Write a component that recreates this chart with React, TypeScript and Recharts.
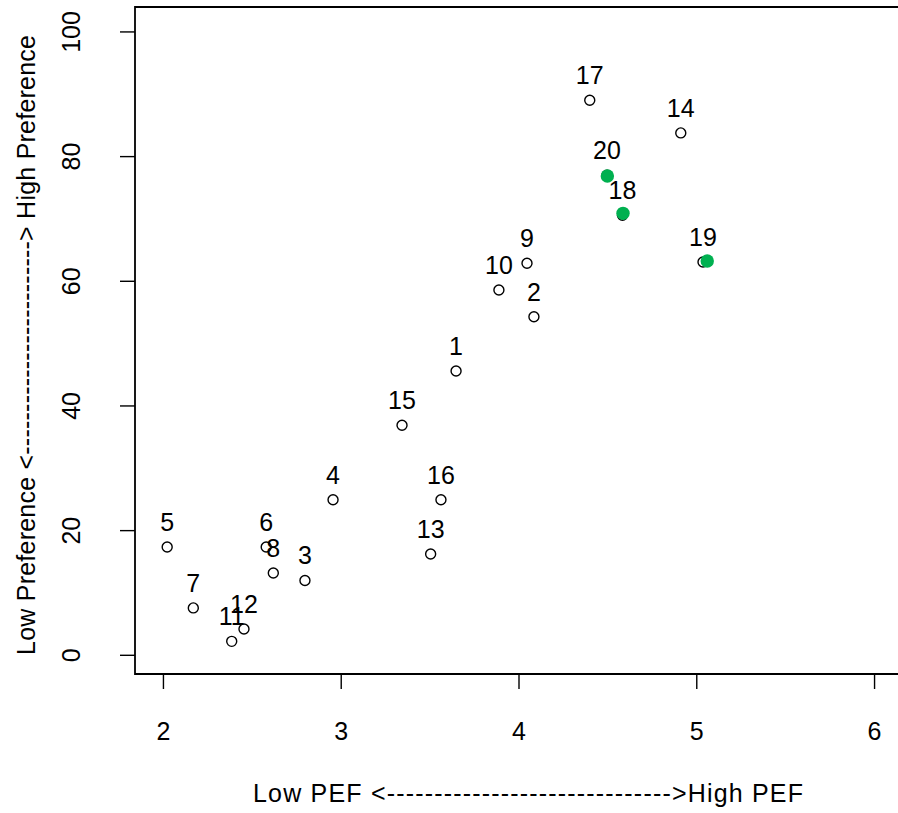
import { ScatterChart, Scatter, XAxis, YAxis, ReferenceArea } from "recharts";

const font = '"Liberation Sans", Arial, sans-serif';
const fs = 25;

const ids = [1, 2, 3, 4, 5, 6, 7, 8, 9, 10, 11, 12, 13, 14, 15, 16, 17, 18, 19, 20];
const pef = [3.646, 4.084, 2.796, 2.954, 2.021, 2.578, 2.168, 2.618, 4.045, 3.887, 2.384, 2.453, 3.503, 4.91, 3.342, 3.561, 4.398, 4.582, 5.035, 4.495];
const pref = [45.6, 54.3, 12.0, 24.95, 17.37, 17.37, 7.6, 13.2, 62.9, 58.6, 2.24, 4.23, 16.25, 83.8, 36.9, 24.95, 89.05, 70.6, 63.1, 77.0];

const hiIds = [20, 18, 19];
const hiPef = [4.497, 4.585, 5.059];
const hiPref = [76.9, 70.9, 63.25];

const xTicks = [2, 3, 4, 5, 6];
const yTicks = [0, 20, 40, 60, 80, 100];

const allPoints = ids.map((id, i) => ({ id, x: pef[i], y: pref[i] }));
const greenPoints = hiIds.map((id, i) => ({ id, x: hiPef[i], y: hiPref[i] }));

function OpenPoint(props: any) {
  const { cx, cy, payload } = props;
  return (
    <g>
      <circle cx={cx} cy={cy} r={5} fill="none" stroke="#000" strokeWidth={1.4} />
      <text x={cx} y={cy - 16} textAnchor="middle" fontSize={fs} fontFamily={font} fill="#000">
        {payload.id}
      </text>
    </g>
  );
}

function GreenPoint(props: any) {
  const { cx, cy } = props;
  return <circle cx={cx} cy={cy} r={6.7} fill="#00B050" />;
}

function XTick(props: any) {
  const { x, y, payload } = props;
  return (
    <text x={x} y={y + 51} textAnchor="middle" fontSize={fs} fontFamily={font} fill="#000">
      {payload.value}
    </text>
  );
}

function YTick(props: any) {
  const { x, y, payload } = props;
  const bx = x - 40;
  return (
    <text x={bx} y={y} transform={`rotate(-90, ${bx}, ${y})`} textAnchor="middle" fontSize={fs} fontFamily={font} fill="#000">
      {payload.value}
    </text>
  );
}

function XTitle(props: any) {
  const vb = props.viewBox;
  const cx = vb.x + vb.width / 2 + 9;
  return (
    <text x={cx} y={vb.y + 128} textAnchor="middle" fontSize={fs} fontFamily={font} fill="#000" textLength={550} lengthAdjust="spacing">
      Low PEF {"<------------------------------>"}High PEF
    </text>
  );
}

function YTitle(props: any) {
  const vb = props.viewBox;
  const cy = vb.y + vb.height / 2 + 4.5;
  const bx = 35;
  return (
    <text x={bx} y={cy} transform={`rotate(-90, ${bx}, ${cy})`} textAnchor="middle" fontSize={fs} fontFamily={font} fill="#000" textLength={620} lengthAdjust="spacing">
      Low Preference {"<------------------------->"} High Preference
    </text>
  );
}

export default function App() {
  return (
    <div style={{ position: "absolute", left: 0, top: 0, width: 898, height: 813, overflow: "hidden", background: "#fff" }}>
      <ScatterChart width={903} height={813} margin={{ top: 7, right: 0, left: 0, bottom: 0 }}>
        <XAxis
          type="number"
          dataKey="x"
          domain={[1.84, 6.16]}
          ticks={xTicks}
          allowDataOverflow
          axisLine={false}
          tickLine={{ stroke: "#000", strokeWidth: 1.4 }}
          tickSize={15}
          tickMargin={0}
          tick={<XTick />}
          height={139}
          label={{ content: XTitle }}
        />
        <YAxis
          type="number"
          dataKey="y"
          domain={[-3, 104]}
          ticks={yTicks}
          allowDataOverflow
          axisLine={false}
          tickLine={{ stroke: "#000", strokeWidth: 1.4 }}
          tickSize={15}
          tickMargin={0}
          tick={<YTick />}
          width={135}
          label={{ content: YTitle }}
        />
        <ReferenceArea x1={1.84} x2={6.16} y1={-3} y2={104} fill="none" stroke="#000" strokeWidth={1.8} ifOverflow="visible" />
        <Scatter data={allPoints} shape={<OpenPoint />} isAnimationActive={false} />
        <Scatter data={greenPoints} shape={<GreenPoint />} isAnimationActive={false} />
      </ScatterChart>
    </div>
  );
}
